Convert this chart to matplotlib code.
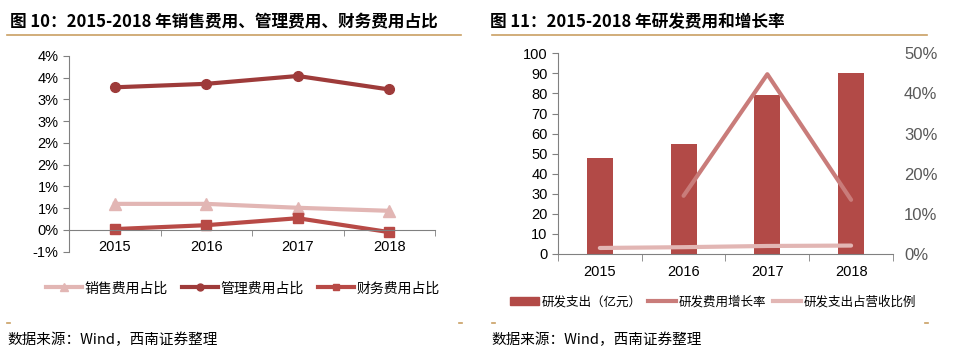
import numpy as np
import matplotlib
matplotlib.use("Agg")
import matplotlib.pyplot as plt
from matplotlib.ticker import FuncFormatter, FixedLocator
from matplotlib.lines import Line2D
from matplotlib.patches import Patch

plt.rcParams['font.family'] = ['Liberation Sans', 'Noto Sans CJK SC', 'DejaVu Sans']

years = ["2015", "2016", "2017", "2018"]

# 图10 数据（%）
sales_ratio = [0.60, 0.60, 0.51, 0.44]
admin_ratio = [3.28, 3.36, 3.54, 3.23]
fin_ratio = [0.02, 0.11, 0.27, -0.05]

# 图11 数据
rd_spend = [47.8, 54.8, 79.2, 90.2]          # 亿元
rd_growth = [np.nan, 14.5, 44.8, 13.5]       # %
rd_share = [1.5, 1.7, 2.0, 2.1]              # %

gold = "#C9A063"
grey = "#808080"
cjk = ['Noto Sans CJK SC', 'DejaVu Sans']


def excel_pct(v, p):
    # Excel 风格：四舍五入到整数（远离零）
    r = np.sign(v) * np.floor(abs(v) + 0.5 + 1e-9)
    return "%d%%" % r


fig = plt.figure(figsize=(9.64, 3.64), dpi=100)
x = np.arange(len(years))

# ---------- 左图 ----------
ax1 = fig.add_axes([0.0716, 0.3085, 0.3797, 0.5377])
ax1.plot(x, sales_ratio, color="#E2B6B4", lw=3, marker="^", ms=8, label="销售费用占比")
ax1.plot(x, admin_ratio, color="#9E3B3A", lw=3, marker="o", ms=7, label="管理费用占比")
ax1.plot(x, fin_ratio, color="#B84A46", lw=3, marker="s", ms=7, label="财务费用占比")
ax1.set_xlim(-0.5, 3.5)
ax1.set_ylim(-0.5, 4.0)
ax1.yaxis.set_major_locator(FixedLocator(np.arange(-0.5, 4.01, 0.5)))
ax1.yaxis.set_major_formatter(FuncFormatter(excel_pct))
for s in ["top", "right"]:
    ax1.spines[s].set_visible(False)
ax1.spines["bottom"].set_position(("data", 0))
for s in ["left", "bottom"]:
    ax1.spines[s].set_color(grey)
ax1.tick_params(axis="y", colors=grey, labelcolor="black", labelsize=10.5, length=4, direction="out")
ax1.set_xticks(x)
ax1.set_xticklabels([])
ax1.set_xticks(np.arange(-0.5, 3.6, 1), minor=True)
ax1.tick_params(axis="x", which="major", length=0)
ax1.tick_params(axis="x", which="minor", colors=grey, length=4, direction="out")
for i, y in enumerate(years):
    ax1.text(i, -0.4, y, ha="center", va="center", fontsize=10.5)

h1 = [Line2D([], [], color="#E2B6B4", lw=3, marker="^", ms=6),
      Line2D([], [], color="#9E3B3A", lw=3, marker="o", ms=5),
      Line2D([], [], color="#B84A46", lw=3, marker="s", ms=5)]
fig.legend(h1, ["销售费用占比", "管理费用占比", "财务费用占比"], loc="center",
           bbox_to_anchor=(0.252, 0.208), ncol=3, frameon=False, prop={"family": cjk, "size": 10},
           handlelength=2.6, handletextpad=0.2, columnspacing=1.0)

# ---------- 右图 ----------
ax2 = fig.add_axes([0.5788, 0.3022, 0.3475, 0.5513])
ax2.bar(x, rd_spend, width=0.31, color="#B24A47", zorder=1)
ax2.set_xlim(-0.5, 3.5)
ax2.set_ylim(0, 100)
ax2.set_yticks(np.arange(0, 101, 10))
for s in ["top", "right"]:
    ax2.spines[s].set_visible(False)
for s in ["left", "bottom"]:
    ax2.spines[s].set_color(grey)
ax2.tick_params(axis="y", colors=grey, labelcolor="black", labelsize=10.5, length=4)
ax2.set_xticks(x)
ax2.set_xticklabels(years, fontsize=10.5)
ax2.set_xticks(np.arange(-0.5, 3.6, 1), minor=True)
ax2.tick_params(axis="x", which="major", length=0, pad=8)
ax2.tick_params(axis="x", which="minor", colors=grey, length=5)

ax3 = ax2.twinx()
ax3.plot(x, rd_growth, color="#C97C7A", lw=3, solid_capstyle="round")
ax3.plot(x, rd_share, color="#E2B6B4", lw=3, solid_capstyle="round")
ax3.set_ylim(0, 50)
ax3.set_yticks(np.arange(0, 51, 10))
ax3.yaxis.set_major_formatter(FuncFormatter(lambda v, p: "%d%%" % v))
for s in ["top", "right", "left", "bottom"]:
    ax3.spines[s].set_visible(False)
ax3.tick_params(axis="y", length=0, labelcolor="#595959", labelsize=12, pad=8)

h2 = [Patch(color="#B24A47"),
      Line2D([], [], color="#C97C7A", lw=3),
      Line2D([], [], color="#E2B6B4", lw=3)]
fig.legend(h2, ["研发支出（亿元）", "研发费用增长率", "研发支出占营收比例"], loc="center",
           bbox_to_anchor=(0.74, 0.17), ncol=3, frameon=False, prop={"family": cjk, "size": 9},
           handlelength=2.3, handleheight=0.6, handletextpad=0.2, columnspacing=0.5)

# ---------- 标题与来源 ----------
fig.text(0.010, 0.938, "图 10：2015-2018 年销售费用、管理费用、财务费用占比", fontsize=12,
         fontweight="bold", va="center", family=cjk)
fig.text(0.508, 0.938, "图 11：2015-2018 年研发费用和增长率", fontsize=12,
         fontweight="bold", va="center", family=cjk)
fig.add_artist(Line2D([0.007, 0.478], [0.903, 0.903], color=gold, lw=1.2))
fig.add_artist(Line2D([0.510, 0.962], [0.903, 0.903], color=gold, lw=1.2))
for xl in [0.007, 0.476, 0.510, 0.960]:
    fig.add_artist(Line2D([xl, xl + 0.003], [0.113, 0.113], color=gold, lw=1.2))
fig.text(0.008, 0.066, "数据来源：Wind，西南证券整理", fontsize=10.5, style="italic",
         va="center", family=cjk)
fig.text(0.510, 0.066, "数据来源：Wind，西南证券整理", fontsize=10.5, style="italic",
         va="center", family=cjk)

fig.savefig("out.png", dpi=100)
